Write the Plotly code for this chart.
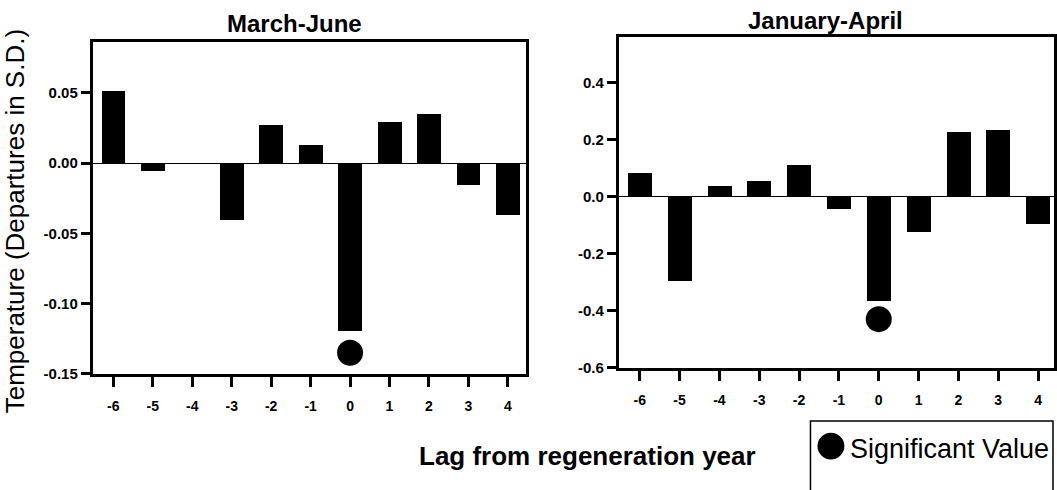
import plotly.graph_objects as go

W, H = 1057, 490

lags = [-6, -5, -4, -3, -2, -1, 0, 1, 2, 3, 4]
tick_labels = ["-6", "-5", "-4", "-3", "-2", "-1", "0", "1", "2", "3", "4"]

march_june = [0.051, -0.006, 0.0, -0.041, 0.027, 0.013, -0.120, 0.029, 0.035, -0.016, -0.037]
jan_april = [0.084, -0.295, 0.038, 0.056, 0.111, -0.044, -0.366, -0.126, 0.226, 0.235, -0.098]

sig_lag_mj = [0]
sig_val_mj = [-0.135]
sig_lag_ja = [0]
sig_val_ja = [-0.429]

left_yticks = [-0.15, -0.10, -0.05, 0.00, 0.05]
left_yticklabels = ["-0.15", "-0.10", "-0.05", "0.00", "0.05"]
right_yticks = [-0.6, -0.4, -0.2, 0.0, 0.2, 0.4]
right_yticklabels = ["-0.6", "-0.4", "-0.2", "0.0", "0.2", "0.4"]

FONT = "Liberation Sans, Arial, sans-serif"

def px(x):
    return x / W

def py(y):
    return 1 - y / H

fig = go.Figure()
fig.add_trace(go.Bar(x=lags, y=march_june, width=0.6, marker=dict(color="black", line_width=0),
                     xaxis="x", yaxis="y", showlegend=False))
fig.add_trace(go.Scatter(x=sig_lag_mj, y=sig_val_mj, mode="markers",
                         marker=dict(color="black", size=26), xaxis="x", yaxis="y", showlegend=False))
fig.add_trace(go.Bar(x=lags, y=jan_april, width=0.6, marker=dict(color="black", line_width=0),
                     xaxis="x2", yaxis="y2", showlegend=False))
fig.add_trace(go.Scatter(x=sig_lag_ja, y=sig_val_ja, mode="markers",
                         marker=dict(color="black", size=26), xaxis="x2", yaxis="y2", showlegend=False))

xcommon = dict(tickmode="array", tickvals=lags, ticktext=tick_labels, ticks="outside", ticklen=10,
               tickwidth=2.5, tickcolor="black", showline=True, linewidth=3, linecolor="black",
               mirror=True, showgrid=False, zeroline=False, ticklabelstandoff=7,
               tickfont=dict(family=FONT, size=14, color="black", weight="bold"))
ycommon = dict(ticks="outside", ticklen=9, tickwidth=2.5, tickcolor="black", showline=True,
               linewidth=3, linecolor="black", mirror=True, showgrid=False,
               zeroline=True, zerolinecolor="black", zerolinewidth=1.2,
               tickfont=dict(family=FONT, size=15, color="black", weight="bold"))

fig.update_layout(
    width=W, height=H,
    margin=dict(l=0, r=0, t=0, b=0),
    plot_bgcolor="white", paper_bgcolor="white",
    bargap=0,
    xaxis=dict(domain=[px(93), px(527)], range=[-6.52, 4.46], anchor="y", **xcommon),
    yaxis=dict(domain=[py(380), py(43)], range=[-0.15, 0.086], anchor="x",
               tickmode="array", tickvals=left_yticks, ticktext=left_yticklabels, **ycommon),
    xaxis2=dict(domain=[px(620), px(1056)], range=[-6.525, 4.4], anchor="y2", **xcommon),
    yaxis2=dict(domain=[py(374), py(38)], range=[-0.6, 0.56], anchor="x2",
                tickmode="array", tickvals=right_yticks, ticktext=right_yticklabels, **ycommon),
)

annots = [
    dict(text="March-June", x=px(295), y=py(24), font=dict(size=24, weight="bold")),
    dict(text="January-April", x=px(827), y=py(21), font=dict(size=24, weight="bold")),
    dict(text="Lag from regeneration year", x=px(589), y=py(464), font=dict(size=26, weight="bold")),
    dict(text="Temperature (Departures in S.D.)", x=px(15), y=py(225), textangle=-90, font=dict(size=26)),
]
for a in annots:
    f = dict(family=FONT, color="black")
    f.update(a.pop("font"))
    fig.add_annotation(xref="paper", yref="paper", showarrow=False, xanchor="center", yanchor="middle",
                       font=f, **a)

# manual legend
fig.add_shape(type="rect", xref="paper", yref="paper", x0=px(812), x1=px(1055), y0=py(500), y1=py(428),
              line=dict(color="black", width=1.5), fillcolor="rgba(0,0,0,0)")
fig.add_shape(type="circle", xref="paper", yref="paper", x0=px(819), x1=px(846), y0=py(467), y1=py(440),
              line=dict(color="black", width=0), fillcolor="black")
fig.add_annotation(xref="paper", yref="paper", showarrow=False, x=px(850), y=py(456), xanchor="left",
                   yanchor="middle", text="Significant Value",
                   font=dict(family=FONT, size=27, color="black"))

fig.write_html("out.html")
